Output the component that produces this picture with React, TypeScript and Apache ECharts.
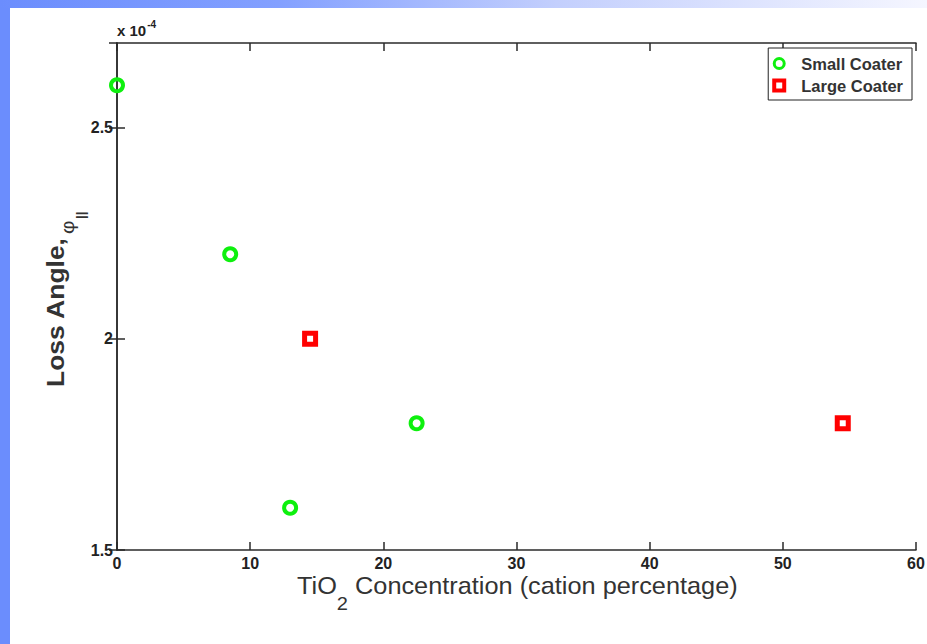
import React, { useEffect, useRef } from 'react';
import * as echarts from 'echarts';

// Loss angle (×10⁻⁴) versus TiO2 cation percentage, two coating runs
const seriesNames = ['Small Coater', 'Large Coater'];
const smallCoaterTiO2 = [0, 8.5, 13, 22.5];
const smallCoaterLoss = [2.6, 2.2, 1.6, 1.8];
const largeCoaterTiO2 = [14.5, 54.5];
const largeCoaterLoss = [2.0, 1.8];

const xTicks = [0, 10, 20, 30, 40, 50, 60];
const yTicks = [1.5, 2, 2.5];
const yTop = 2.7;

const FONT = '"Liberation Sans", Arial, Helvetica, sans-serif';
const GREEN = '#0ef00e';
const RED = '#ff0000';
const INK = '#2a2a2a';

const CIRCLE_ICON = 'path://M50,0A50,50,0,1,1,50,100A50,50,0,1,1,50,0Z';
const SQUARE_ICON = 'path://M0,0L100,0L100,100L0,100Z';

function textWidth(text: string, font: string): number {
  const ctx = document.createElement('canvas').getContext('2d');
  if (!ctx) return text.length * 10;
  ctx.font = font;
  return ctx.measureText(text).width;
}

function txt(
  x: number,
  y: number,
  text: string,
  size: number,
  weight: string,
  color: string,
  extra: Record<string, unknown> = {}
) {
  return {
    type: 'text',
    x,
    y,
    silent: true,
    ...extra,
    style: {
      text,
      fontSize: size,
      fontWeight: weight,
      fontFamily: FONT,
      fill: color,
      align: 'left',
      verticalAlign: 'middle',
      textAlign: 'left',
      textVerticalAlign: 'middle',
    },
  };
}

export default function App() {
  const ref = useRef<HTMLDivElement>(null);

  useEffect(() => {
    if (!ref.current) return;
    const chart = echarts.init(ref.current, undefined, { renderer: 'svg' });

    const xStep = xTicks[1] - xTicks[0];
    const yStep = yTicks[1] - yTicks[0];

    // x-axis title: "TiO" + subscript "2" + remainder, fitted to its span
    const xMain = `24px ${FONT}`;
    const xSub = `19px ${FONT}`;
    const wTi = textWidth('TiO', xMain);
    const w2 = textWidth('2', xSub);
    const restText = ' Concentration (cation percentage)';
    const wRest = textWidth(restText, xMain);
    const xTitleLeft = 297;
    const xTitleRight = 738;
    const xScale = (xTitleRight - xTitleLeft) / (wTi + w2 + wRest);

    // y-axis title pieces, each rotated to read upward
    const yMainText = 'Loss Angle,';
    const wLoss = textWidth(yMainText, `bold 23px ${FONT}`);
    const yScale = 150 / wLoss;
    const upright = { rotation: Math.PI / 2, scaleX: yScale };

    const wX10 = textWidth('x 10', `bold 15px ${FONT}`);

    const axisLine = { show: true, lineStyle: { color: INK, width: 1.5 } };
    const axisTick = { show: true, inside: true, length: 8, lineStyle: { color: INK, width: 1.5 } };
    const tickRich = {
      t: {
        fontFamily: FONT,
        fontWeight: 'bold',
        fontSize: 16,
        lineHeight: 18,
        color: '#222',
      },
    };
    const tickFormatter = (v: number) => `{t|${v}}`;

    chart.setOption({
      animation: false,
      backgroundColor: '#ffffff',
      grid: {
        left: 117,
        right: 11,
        top: 43,
        bottom: 94,
        containLabel: false,
        outerBoundsMode: 'none',
      },
      xAxis: [
        {
          type: 'value',
          position: 'bottom',
          min: xTicks[0],
          max: xTicks[xTicks.length - 1],
          interval: xStep,
          axisLine,
          axisTick,
          splitLine: { show: false },
          axisLabel: { margin: 4, formatter: tickFormatter, rich: tickRich },
        },
        {
          type: 'value',
          position: 'top',
          min: xTicks[0],
          max: xTicks[xTicks.length - 1],
          interval: xStep,
          axisLine,
          axisTick,
          splitLine: { show: false },
          axisLabel: { show: false },
        },
      ],
      yAxis: [
        {
          type: 'value',
          position: 'left',
          min: yTicks[0],
          max: yTop,
          interval: yStep,
          axisLine,
          axisTick,
          splitLine: { show: false },
          axisLabel: {
            margin: 4,
            showMaxLabel: false,
            formatter: tickFormatter,
            rich: tickRich,
          },
        },
        {
          type: 'value',
          position: 'right',
          min: yTicks[0],
          max: yTop,
          interval: yStep,
          axisLine,
          axisTick,
          splitLine: { show: false },
          axisLabel: { show: false },
        },
      ],
      legend: {
        orient: 'vertical',
        right: 15,
        top: 48,
        padding: [7, 9, 6, 4],
        itemGap: 5,
        itemWidth: 34,
        itemHeight: 10,
        backgroundColor: '#ffffff',
        borderColor: '#222',
        borderWidth: 1,
        borderRadius: 0,
        selectedMode: false,
        textStyle: {
          fontFamily: FONT,
          fontWeight: 'bold',
          fontSize: 16.5,
          lineHeight: 16,
          color: '#333',
        },
        data: [
          {
            name: seriesNames[0],
            icon: CIRCLE_ICON,
            itemStyle: { color: 'rgba(0,0,0,0)', borderColor: GREEN, borderWidth: 3 },
          },
          {
            name: seriesNames[1],
            icon: SQUARE_ICON,
            itemStyle: { color: 'rgba(0,0,0,0)', borderColor: RED, borderWidth: 4 },
          },
        ],
      },
      series: [
        {
          type: 'scatter',
          name: seriesNames[0],
          xAxisIndex: 0,
          yAxisIndex: 0,
          clip: false,
          symbol: 'circle',
          symbolSize: 12,
          itemStyle: { color: 'rgba(0,0,0,0)', borderColor: GREEN, borderWidth: 4, opacity: 1 },
          emphasis: { disabled: true },
          data: smallCoaterTiO2.map((x, i) => [x, smallCoaterLoss[i]]),
          z: 3,
        },
        {
          type: 'scatter',
          name: seriesNames[1],
          xAxisIndex: 0,
          yAxisIndex: 0,
          clip: false,
          symbol: 'rect',
          symbolSize: 11,
          itemStyle: { color: 'rgba(0,0,0,0)', borderColor: RED, borderWidth: 5, opacity: 1 },
          emphasis: { disabled: true },
          data: largeCoaterTiO2.map((x, i) => [x, largeCoaterLoss[i]]),
          z: 3,
        },
      ],
      graphic: [
        // slide frame: solid left band and fading top band
        {
          type: 'rect',
          silent: true,
          z: -10,
          shape: { x: 0, y: 0, width: 10, height: 644 },
          style: { fill: '#6b8dfd' },
        },
        {
          type: 'rect',
          silent: true,
          z: -10,
          shape: { x: 0, y: 0, width: 927, height: 8 },
          style: {
            fill: new echarts.graphic.LinearGradient(0, 0, 1, 0, [
              { offset: 0, color: '#6b8dfd' },
              { offset: 0.3, color: '#83a0ff' },
              { offset: 0.6, color: '#c3cffd' },
              { offset: 1, color: '#f5f6ff' },
            ]),
          },
        },
        // exponent note above the y axis
        txt(117, 30.5, 'x 10', 15, 'bold', '#222'),
        txt(117 + wX10 + 1, 24.5, '-4', 10, 'bold', '#222'),
        // y-axis title: "Loss Angle, φ" with subscript "||"
        txt(56.5, 387, yMainText, 23, 'bold', '#333', upright),
        txt(68, 234, 'φ', 18, 'normal', '#333', upright),
        txt(81, 219, '||', 12, 'bold', '#333', upright),
        // x-axis title
        {
          type: 'group',
          x: xTitleLeft,
          y: 586,
          scaleX: xScale,
          silent: true,
          children: [
            txt(0, 0, 'TiO', 24, 'normal', '#333'),
            txt(wTi, 17, '2', 19, 'normal', '#333'),
            txt(wTi + w2, 0, restText, 24, 'normal', '#333'),
          ],
        },
      ],
    });

    return () => chart.dispose();
  }, []);

  return (
    <div
      ref={ref}
      style={{ position: 'fixed', left: 0, top: 0, width: 927, height: 644, background: '#fff' }}
    />
  );
}
